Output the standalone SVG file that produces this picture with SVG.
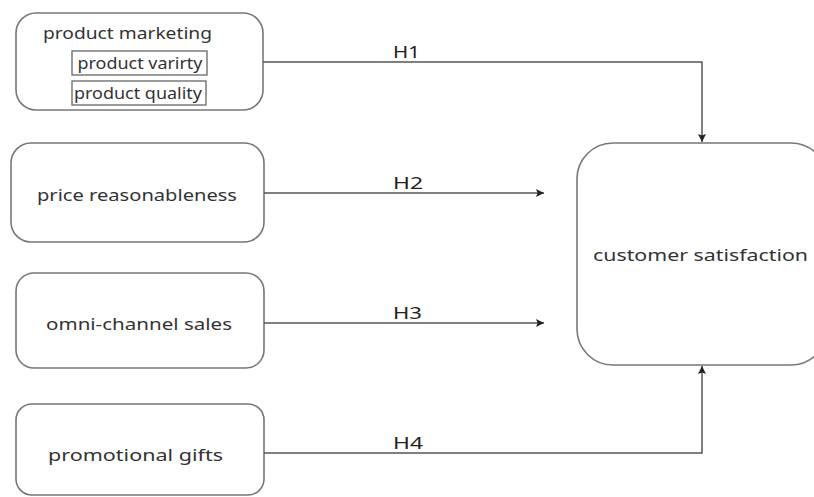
<svg xmlns="http://www.w3.org/2000/svg" width="814" height="497" viewBox="0 0 814 497">
<style>
.box{fill:#fff;stroke:#777;stroke-width:1.6}
.sub{fill:#fff;stroke:#666;stroke-width:1.3}
.t{font-family:"Noto Sans","Open Sans",sans-serif;font-size:16px;fill:#333;text-anchor:middle;dominant-baseline:central}
.h{font-family:"Noto Sans","Open Sans",sans-serif;font-size:16px;fill:#222;text-anchor:middle;dominant-baseline:central}
.c{fill:none;stroke:#555;stroke-width:1.5}
</style>
<defs>
<marker id="arr" viewBox="0 0 10 10" refX="10" refY="5" markerWidth="8" markerHeight="8" markerUnits="userSpaceOnUse" orient="auto">
<path d="M0,0 L10,5 L0,10 L2,5 z" fill="#222"/>
</marker>
</defs>
<rect width="814" height="497" fill="#fff"/>
<g id="n1">
<rect class="box" x="16" y="13" width="247" height="97" rx="20"/>
<text class="t" x="127.5" y="33" textLength="169" lengthAdjust="spacingAndGlyphs">product marketing</text>
<rect class="sub" x="72" y="51" width="135" height="24"/>
<text class="t" x="140" y="63" textLength="125" lengthAdjust="spacingAndGlyphs">product varirty</text>
<rect class="sub" x="72" y="81" width="134" height="24"/>
<text class="t" x="138" y="93" textLength="128" lengthAdjust="spacingAndGlyphs">product quality</text>
</g>
<g id="n2">
<rect class="box" x="11" y="143" width="253" height="99" rx="20"/>
<text class="t" x="137" y="195" textLength="200" lengthAdjust="spacingAndGlyphs">price reasonableness</text>
</g>
<g id="n3">
<rect class="box" x="16" y="273" width="248" height="95" rx="18"/>
<text class="t" x="139" y="324" textLength="186" lengthAdjust="spacingAndGlyphs">omni-channel sales</text>
</g>
<g id="n4">
<rect class="box" x="16" y="404" width="248" height="91" rx="16"/>
<text class="t" x="135.5" y="455" textLength="175" lengthAdjust="spacingAndGlyphs">promotional gifts</text>
</g>
<g id="n5">
<rect class="box" x="577" y="143" width="250" height="222" rx="36"/>
<text class="t" x="700.5" y="255" textLength="215" lengthAdjust="spacingAndGlyphs">customer satisfaction</text>
</g>
<g id="connectors">
<path class="c" d="M263,62 H702 V142" marker-end="url(#arr)"/>
<path class="c" d="M264,193 H544" marker-end="url(#arr)"/>
<path class="c" d="M264,323 H544" marker-end="url(#arr)"/>
<path class="c" d="M264,453 H702 V366" marker-end="url(#arr)"/>
<text class="h" x="406.5" y="52" textLength="27" lengthAdjust="spacingAndGlyphs">H1</text>
<text class="h" x="408" y="183" textLength="30" lengthAdjust="spacingAndGlyphs">H2</text>
<text class="h" x="407.5" y="313" textLength="29" lengthAdjust="spacingAndGlyphs">H3</text>
<text class="h" x="408" y="443" textLength="30" lengthAdjust="spacingAndGlyphs">H4</text>
</g>
</svg>
